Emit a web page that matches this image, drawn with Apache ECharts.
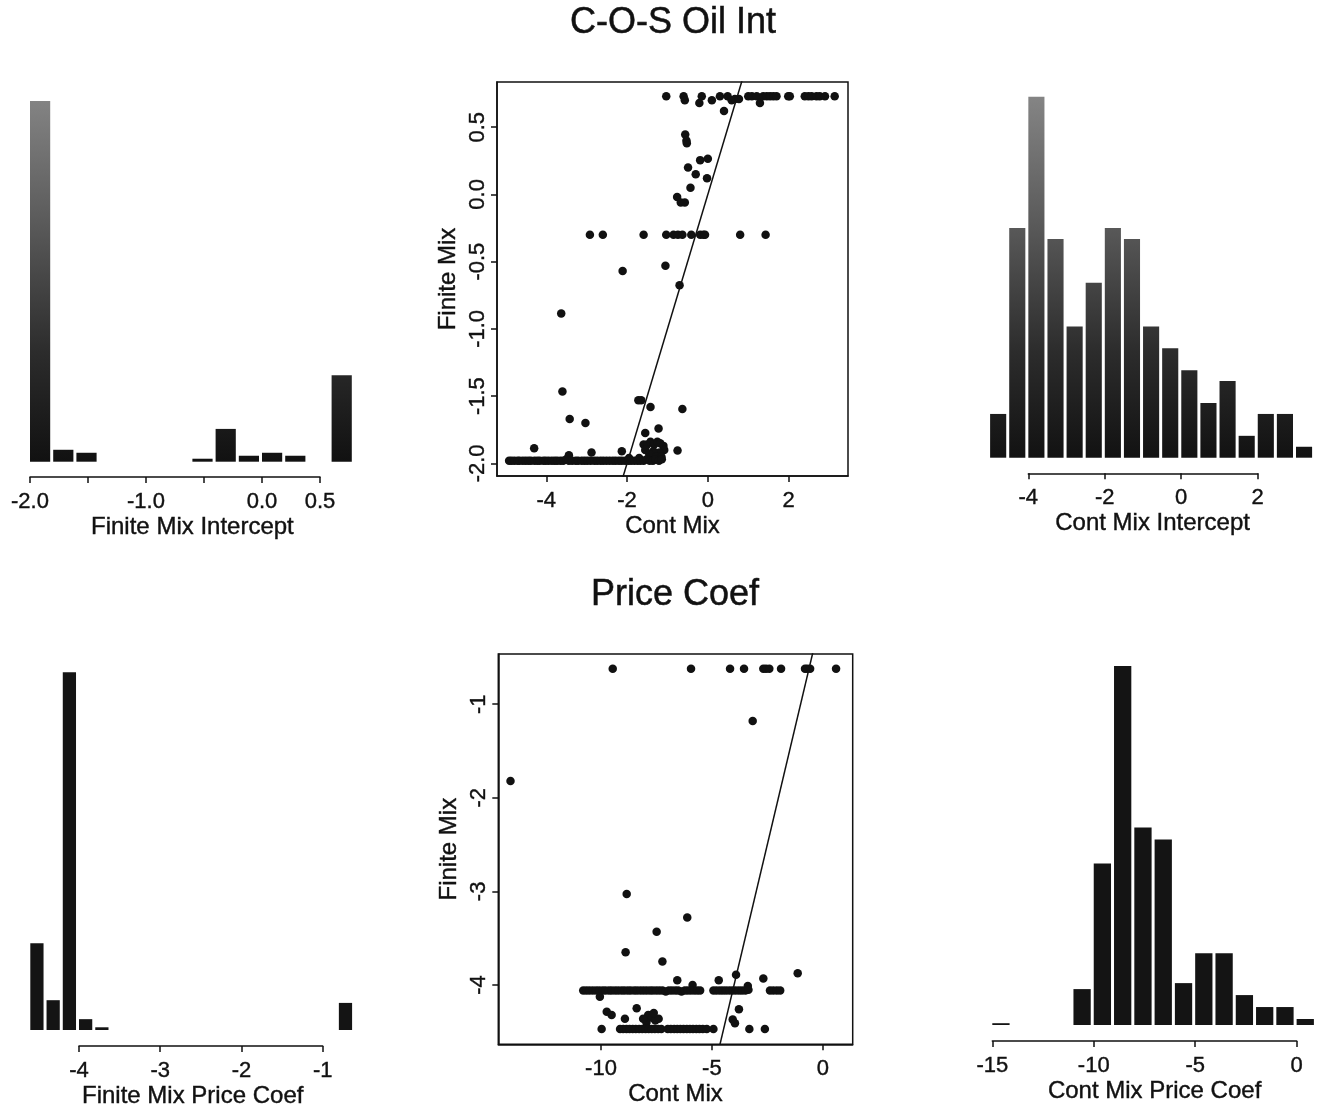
<!DOCTYPE html>
<html>
<head>
<meta charset="utf-8">
<script src="https://cdn.jsdelivr.net/npm/echarts@6/dist/echarts.min.js"></script>
<style>
  html, body { margin: 0; padding: 0; background: #fff; }
  #chart { width: 1318px; height: 1109px; }
</style>
</head>
<body>
<div id="chart"></div>
<script>
// histogram bins: left edges + counts
const finiteIntStarts = [-2.0, -1.8, -1.6, -0.6, -0.4, -0.2, 0.0, 0.2, 0.6]
const finiteIntCounts = [121, 4, 3, 1, 11, 2, 3, 2, 29]
const contIntStarts = [-5.0, -4.5, -4.0, -3.5, -3.0, -2.5, -2.0, -1.5, -1.0, -0.5, 0.0, 0.5, 1.0, 1.5, 2.0, 2.5, 3.0]
const contIntCounts = [4, 21, 33, 20, 12, 16, 21, 20, 12, 10, 8, 5, 7, 2, 4, 4, 1]
const finitePriceStarts = [-4.6, -4.4, -4.2, -4.0, -3.8, -0.8]
const finitePriceCounts = [32, 11, 132, 4, 1, 10]
const contPriceStarts = [-15, -11, -10, -9, -8, -7, -6, -5, -4, -3, -2, -1, 0]
const contPriceCounts = [0.3, 6, 27, 60, 33, 31, 7, 12, 12, 5, 3, 3, 1]

// tick labels
const finiteIntTicks = [-2.0, -1.5, -1.0, -0.5, 0.0, 0.5]
const finiteIntLabels = [-2.0, -1.0, 0.0, 0.5]
const contIntTicks = [-4, -2, 0, 2]
const finitePriceTicks = [-4, -3, -2, -1]
const contPriceTicks = [-15, -10, -5, 0]
const cosXTicks = [-4, -2, 0, 2]
const cosYTicks = [-2.0, -1.5, -1.0, -0.5, 0.0, 0.5]
const priceXTicks = [-10, -5, 0]
const priceYTicks = [-4, -3, -2, -1]

// scatter: [Cont Mix, Finite Mix]
const cosPoints = [
  [-1.03, 0.73], [-0.60, 0.73], [-0.57, 0.70], [-0.21, 0.68], [-0.15, 0.73], [0.10, 0.70], [0.30, 0.73],
  [0.40, 0.62], [0.49, 0.73], [0.59, 0.70], [0.67, 0.71], [0.77, 0.71], [1.00, 0.73], [1.09, 0.73],
  [1.21, 0.73], [1.29, 0.68], [1.37, 0.73], [1.46, 0.73], [1.54, 0.73], [1.62, 0.73], [1.70, 0.73],
  [1.99, 0.73], [2.03, 0.73], [2.40, 0.73], [2.49, 0.73], [2.57, 0.73], [2.69, 0.73], [2.77, 0.73],
  [2.90, 0.73], [3.14, 0.73],
  [-0.56, 0.445], [-0.53, 0.40], [-0.52, 0.38], [-0.19, 0.255], [0.0, 0.265], [-0.49, 0.20],
  [-0.30, 0.15], [-0.02, 0.12], [-0.43, 0.05], [-0.76, -0.02], [-0.67, -0.06], [-0.57, -0.06],
  [-2.92, -0.30], [-2.60, -0.30], [-1.59, -0.30], [-1.03, -0.30], [-0.85, -0.30], [-0.74, -0.30],
  [-0.63, -0.30], [-0.41, -0.30], [-0.19, -0.30], [-0.11, -0.30], [-0.07, -0.30], [0.80, -0.30], [1.43, -0.30],
  [-1.05, -0.53], [-2.11, -0.57], [-0.70, -0.675], [-3.63, -0.885], [-3.60, -1.466],
  [-1.72, -1.53], [-1.65, -1.53], [-1.42, -1.58], [-0.63, -1.595], [-3.42, -1.67], [-3.03, -1.70],
  [-1.22, -1.74], [-1.55, -1.775], [-4.30, -1.887], [-0.75, -1.904], [-2.13, -1.91], [-2.88, -1.92],
  [-3.44, -1.94], [-1.59, -1.86], [-1.50, -1.86], [-1.42, -1.84], [-1.33, -1.86], [-1.25, -1.84],
  [-1.18, -1.85], [-1.10, -1.87], [-1.08, -1.90], [-1.20, -1.92], [-1.35, -1.91], [-1.45, -1.93],
  [-1.55, -1.90], [-1.28, -1.95], [-1.15, -1.95], [-1.70, -1.96], [-1.95, -1.96],
  [-4.92, -1.98], [-4.86, -1.98], [-4.79, -1.98], [-4.71, -1.98], [-4.66, -1.98], [-4.58, -1.98],
  [-4.51, -1.98], [-4.44, -1.98], [-4.38, -1.98], [-4.29, -1.98], [-4.22, -1.98], [-4.16, -1.98],
  [-4.07, -1.98], [-4.01, -1.98], [-3.94, -1.98], [-3.86, -1.98], [-3.79, -1.98], [-3.73, -1.98],
  [-3.65, -1.98], [-3.58, -1.98], [-3.50, -1.97], [-3.44, -1.98], [-3.36, -1.98], [-3.27, -1.98],
  [-3.21, -1.98], [-3.12, -1.98], [-3.05, -1.98], [-2.98, -1.98], [-2.90, -1.98], [-2.81, -1.98],
  [-2.74, -1.98], [-2.66, -1.98], [-2.59, -1.98], [-2.51, -1.98], [-2.43, -1.98], [-2.35, -1.98],
  [-2.28, -1.98], [-2.20, -1.98], [-2.13, -1.98], [-2.05, -1.98], [-1.97, -1.98], [-1.90, -1.98],
  [-1.82, -1.98], [-1.74, -1.98], [-1.67, -1.98], [-1.59, -1.98], [-1.51, -1.97], [-1.44, -1.98],
  [-1.36, -1.98], [-1.29, -1.97], [-1.21, -1.98], [-1.14, -1.97],
]
const pricePoints = [
  [-9.47, -0.62], [-5.94, -0.62], [-4.18, -0.62], [-3.55, -0.62], [-2.68, -0.62], [-2.56, -0.62],
  [-2.41, -0.62], [-1.88, -0.62], [-0.80, -0.62], [-0.70, -0.62], [-0.57, -0.62], [0.60, -0.62],
  [-3.16, -1.178], [-14.08, -1.82], [-8.84, -3.027], [-6.11, -3.28], [-7.49, -3.43], [-8.89, -3.65],
  [-7.23, -3.75], [-3.91, -3.89], [-1.13, -3.875], [-6.56, -3.95], [-4.69, -3.95], [-2.68, -3.93],
  [-5.87, -4.0], [-3.38, -4.01], [-10.05, -4.125],
  [-10.80, -4.06], [-10.66, -4.06], [-10.52, -4.06], [-10.37, -4.06], [-10.22, -4.06], [-10.08, -4.06],
  [-9.93, -4.06], [-9.80, -4.06], [-9.64, -4.06], [-9.51, -4.06], [-9.36, -4.06], [-9.22, -4.06],
  [-9.07, -4.06], [-8.94, -4.06], [-8.79, -4.06], [-8.66, -4.06], [-8.50, -4.06], [-8.37, -4.06],
  [-8.22, -4.06], [-8.08, -4.06], [-7.94, -4.06], [-7.79, -4.06], [-7.66, -4.06], [-7.51, -4.06],
  [-7.37, -4.06], [-7.23, -4.06], [-7.08, -4.07], [-6.94, -4.06], [-6.80, -4.06], [-6.65, -4.06],
  [-6.52, -4.06], [-6.37, -4.07], [-6.22, -4.06], [-6.09, -4.06], [-5.95, -4.06], [-5.80, -4.06],
  [-5.66, -4.06], [-5.53, -4.06],
  [-4.93, -4.06], [-4.79, -4.06], [-4.64, -4.06], [-4.50, -4.06], [-4.36, -4.06], [-4.21, -4.06],
  [-4.07, -4.06], [-3.93, -4.06], [-3.78, -4.06], [-3.64, -4.06], [-3.49, -4.06], [-3.35, -4.05],
  [-2.38, -4.06], [-2.23, -4.06], [-2.07, -4.06], [-1.92, -4.06],
  [-9.74, -4.285], [-9.52, -4.32], [-8.39, -4.25], [-8.92, -4.36], [-7.87, -4.32], [-7.70, -4.35],
  [-7.95, -4.40], [-7.55, -4.38], [-7.40, -4.36], [-8.10, -4.36], [-7.62, -4.30], [-3.78, -4.26],
  [-4.06, -4.37], [-3.96, -4.41],
  [-9.97, -4.47], [-9.14, -4.47], [-9.00, -4.47], [-8.85, -4.47], [-8.71, -4.47], [-8.57, -4.47],
  [-8.43, -4.47], [-8.28, -4.47], [-8.14, -4.47], [-7.99, -4.47], [-7.85, -4.47], [-7.71, -4.47],
  [-7.57, -4.47], [-7.42, -4.47], [-7.28, -4.47], [-6.99, -4.47], [-6.85, -4.47], [-6.70, -4.47],
  [-6.56, -4.47], [-6.42, -4.47], [-6.28, -4.47], [-6.13, -4.47], [-5.99, -4.47], [-5.85, -4.47],
  [-5.70, -4.47], [-5.56, -4.47], [-5.41, -4.47], [-5.23, -4.47], [-4.93, -4.47], [-3.31, -4.47],
  [-2.61, -4.47],
]
// 45-degree reference line ends
const cosDiag = [[-2.3, -2.3], [1.0, 1.0]]
const priceDiag = [[-5.0, -5.0], [-0.3, -0.3]]

const INK = '#111'
const FONT = 'Liberation Sans'
const tickText = { color: INK, fontFamily: FONT, fontSize: 22, textBorderColor: INK, textBorderWidth: 0.4 }
const nameText = { color: INK, fontFamily: FONT, fontSize: 24, textBorderColor: INK, textBorderWidth: 0.4 }

const topShade = {
  type: 'linear', x: 0, y: 95, x2: 0, y2: 462, global: true,
  colorStops: [
    { offset: 0, color: '#858585' },
    { offset: 0.35, color: '#5a5a5a' },
    { offset: 0.7, color: '#2c2c2c' },
    { offset: 1, color: '#111111' },
  ],
}

function bins(starts, counts, width) {
  return starts.map((s, i) => [s, s + width, counts[i]])
}

function histSeries(idx, data, fill) {
  return {
    type: 'custom',
    xAxisIndex: idx,
    yAxisIndex: idx,
    data,
    renderItem(params, api) {
      const p0 = api.coord([api.value(0), 0])
      const p1 = api.coord([api.value(1), api.value(2)])
      return {
        type: 'rect',
        shape: { x: p0[0], y: p1[1], width: p1[0] - p0[0] - 3, height: Math.max(p0[1] - p1[1], 1.2) },
        style: { fill },
      }
    },
  }
}

const grids = [
  { left: 30, top: 101, width: 324.8, height: 360.7 },     // 0 finite int bars
  { left: 30, top: 400, width: 290, height: 77 },          // 1 finite int axis
  { left: 497, top: 82, width: 351, height: 394, show: true, borderColor: INK, borderWidth: 1.5 }, // 2 cos scatter
  { left: 990.1, top: 96.7, width: 325, height: 361 },     // 3 cont int bars
  { left: 1028.3, top: 400, width: 229.4, height: 73.3 },  // 4 cont int axis
  { left: 30.3, top: 672.3, width: 324.8, height: 357.7 }, // 5 finite price bars
  { left: 79, top: 1000, width: 243.7, height: 46 },       // 6 finite price axis
  { left: 498.3, top: 654, width: 354.4, height: 390.3, show: true, borderColor: INK, borderWidth: 1.5 }, // 7 price scatter
  { left: 992.3, top: 666, width: 324.6, height: 359 },    // 8 cont price bars
  { left: 992.3, top: 1000, width: 304.4, height: 41 },    // 9 cont price axis
].map((g) => Object.assign({ outerBoundsMode: 'none', containLabel: false, backgroundColor: 'transparent' }, g))

const line = { lineStyle: { color: INK, width: 1.5 } }

function barX(idx, min, max, name) {
  return {
    gridIndex: idx, type: 'value', min, max,
    axisLine: { show: false }, axisTick: { show: false }, axisLabel: { show: false }, splitLine: { show: false },
    name, nameLocation: 'middle', nameGap: 54, nameTextStyle: nameText,
  }
}
function tickX(idx, min, max, ticks, labels, fmt) {
  return {
    gridIndex: idx, type: 'value', min, max,
    axisLine: { show: true, onZero: false, ...line },
    axisTick: { show: true, length: 6, customValues: ticks, ...line },
    axisLabel: { show: true, margin: 14, customValues: labels, formatter: fmt, ...tickText },
    splitLine: { show: false },
  }
}
function hiddenY(idx, max) {
  return { gridIndex: idx, type: 'value', min: 0, max, show: false }
}
function scatterX(idx, min, max, ticks) {
  return {
    gridIndex: idx, type: 'value', min, max,
    axisLine: { show: true, onZero: false, ...line },
    axisTick: { show: true, length: 6, customValues: ticks, ...line },
    axisLabel: { margin: 14, customValues: ticks, ...tickText },
    splitLine: { show: false },
    name: 'Cont Mix', nameLocation: 'middle', nameGap: 38, nameTextStyle: nameText,
  }
}
function scatterY(idx, min, max, ticks, fmt) {
  return {
    gridIndex: idx, type: 'value', min, max,
    axisLine: { show: true, onZero: false, ...line },
    axisTick: { show: true, length: 6, customValues: ticks, ...line },
    axisLabel: { margin: 8, rotate: 90, customValues: ticks, formatter: fmt, ...tickText },
    splitLine: { show: false },
    name: 'Finite Mix', nameLocation: 'middle', nameGap: 37, nameTextStyle: nameText,
  }
}

const one = (v) => v.toFixed(1)
const plain = (v) => String(v)

const chart = echarts.init(document.getElementById('chart'))
chart.setOption({
  animation: false,
  backgroundColor: '#fff',
  graphic: [
    { type: 'text', style: { text: 'C-O-S Oil Int', x: 673, y: 23, align: 'center', verticalAlign: 'middle', fill: INK, stroke: INK, lineWidth: 0.5, font: '36px "Liberation Sans"' } },
    { type: 'text', style: { text: 'Price Coef', x: 675, y: 595, align: 'center', verticalAlign: 'middle', fill: INK, stroke: INK, lineWidth: 0.5, font: '36px "Liberation Sans"' } },
  ],
  grid: grids,
  xAxis: [
    barX(0, -2.0, 0.8, 'Finite Mix Intercept'),
    tickX(1, -2.0, 0.5, finiteIntTicks, finiteIntLabels, one),
    scatterX(2, -5.22, 3.47, cosXTicks),
    barX(3, -5.0, 3.5, 'Cont Mix Intercept'),
    tickX(4, -4, 2, contIntTicks, contIntTicks, plain),
    barX(5, -4.6, -0.6, 'Finite Mix Price Coef'),
    tickX(6, -4, -1, finitePriceTicks, finitePriceTicks, plain),
    scatterX(7, -14.63, 1.35, priceXTicks),
    barX(8, -15, 1, 'Cont Mix Price Coef'),
    tickX(9, -15, 0, contPriceTicks, contPriceTicks, plain),
  ],
  yAxis: [
    hiddenY(0, 121),
    hiddenY(1, 1),
    scatterY(2, -2.094, 0.836, cosYTicks, one),
    hiddenY(3, 33),
    hiddenY(4, 1),
    hiddenY(5, 132),
    hiddenY(6, 1),
    scatterY(7, -4.634, -0.463, priceYTicks, plain),
    hiddenY(8, 60),
    hiddenY(9, 1),
  ],
  series: [
    histSeries(0, bins(finiteIntStarts, finiteIntCounts, 0.2), topShade),
    histSeries(3, bins(contIntStarts, contIntCounts, 0.5), topShade),
    histSeries(5, bins(finitePriceStarts, finitePriceCounts, 0.2), '#141414'),
    histSeries(8, bins(contPriceStarts, contPriceCounts, 1), '#141414'),
    { type: 'scatter', xAxisIndex: 2, yAxisIndex: 2, data: cosPoints, symbolSize: 8.5, itemStyle: { color: INK, opacity: 1 } },
    { type: 'line', xAxisIndex: 2, yAxisIndex: 2, data: cosDiag, showSymbol: false, clip: true, lineStyle: { color: INK, width: 1.5 } },
    { type: 'scatter', xAxisIndex: 7, yAxisIndex: 7, data: pricePoints, symbolSize: 8.5, itemStyle: { color: INK, opacity: 1 } },
    { type: 'line', xAxisIndex: 7, yAxisIndex: 7, data: priceDiag, showSymbol: false, clip: true, lineStyle: { color: INK, width: 1.5 } },
  ],
})
</script>
</body>
</html>
